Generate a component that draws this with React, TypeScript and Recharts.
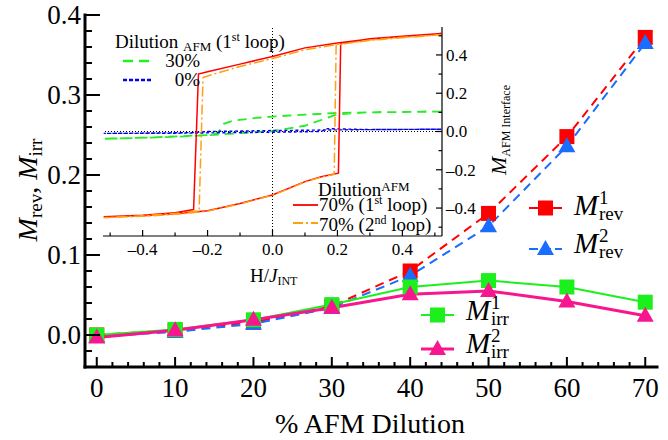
import React from 'react';
import { LineChart, Line, XAxis, YAxis, ReferenceLine } from 'recharts';

const FONT = '"Liberation Serif", "Times New Roman", Times, serif';

// ---------- main chart data ----------
const dilutionPct = [0, 10, 20, 30, 40, 50, 60, 70];
const mRev1 = [0.0, 0.006, 0.016, 0.036, 0.08, 0.152, 0.248, 0.372];
const mRev2 = [-0.002, 0.004, 0.014, 0.034, 0.074, 0.136, 0.236, 0.365];
const mIrr1 = [0.0, 0.007, 0.019, 0.038, 0.06, 0.068, 0.06, 0.041];
const mIrr2 = [-0.003, 0.006, 0.019, 0.034, 0.051, 0.055, 0.042, 0.024];

const mainXMajor = [0, 10, 20, 30, 40, 50, 60, 70];
const mainXLabels = ['0', '10', '20', '30', '40', '50', '60', '70'];
const mainYMajor = [0, 0.1, 0.2, 0.3, 0.4];
const mainYLabels = ['0.0', '0.1', '0.2', '0.3', '0.4'];
const mainXTicks = Array.from({ length: 36 }, (_, i) => i * 2);
const mainYTicks = Array.from({ length: 23 }, (_, i) => Math.round((-0.04 + i * 0.02) * 100) / 100);

// ---------- inset data: [H/J_INT, M_AFM interface] in drawing order ----------
const loop0: number[][] = [
  [0.52, 0.012], [0.3, 0.01], [0.0, 0.005], [-0.2, 0.0], [-0.25, -0.006], [-0.52, -0.01],
  [-0.3, -0.009], [0.0, -0.004], [0.15, 0.0], [0.17, 0.015], [0.3, 0.01], [0.52, 0.012],
];
const loop30: number[][] = [
  [0.52, 0.104], [0.3, 0.1], [0.2, 0.097], [0.1, 0.088], [0.0, 0.078], [-0.05, 0.071], [-0.12, 0.057],
  [-0.15, 0.04], [-0.165, 0.0], [-0.18, -0.017], [-0.25, -0.022], [-0.33, -0.028], [-0.43, -0.035], [-0.52, -0.038],
  [-0.3, -0.028], [-0.18, -0.018], [-0.1, -0.008], [0.0, 0.002], [0.1, 0.03], [0.15, 0.06], [0.2, 0.09],
  [0.3, 0.1], [0.52, 0.104],
];
const loop70First: number[][] = [
  [0.52, 0.512], [0.4, 0.497], [0.3, 0.483], [0.2, 0.463], [0.1, 0.437], [0.0, 0.392], [-0.1, 0.352],
  [-0.2, 0.312], [-0.228, 0.3], [-0.243, -0.408], [-0.3, -0.425], [-0.4, -0.437], [-0.52, -0.446],
  [-0.4, -0.44], [-0.3, -0.43], [-0.2, -0.414], [-0.1, -0.376], [0.0, -0.332], [0.1, -0.262], [0.15, -0.236],
  [0.203, -0.218], [0.21, 0.46], [0.3, 0.484], [0.4, 0.498], [0.52, 0.512],
];
const loop70Second: number[][] = [
  [0.52, 0.505], [0.4, 0.49], [0.3, 0.476], [0.2, 0.455], [0.1, 0.427], [0.0, 0.381], [-0.1, 0.34],
  [-0.2, 0.29], [-0.214, 0.282], [-0.226, -0.414], [-0.3, -0.428], [-0.4, -0.44], [-0.52, -0.45],
  [-0.4, -0.443], [-0.3, -0.433], [-0.2, -0.416], [-0.1, -0.378], [0.0, -0.333], [0.1, -0.264], [0.15, -0.238],
  [0.19, -0.224], [0.196, 0.452], [0.3, 0.478], [0.4, 0.492], [0.52, 0.505],
];
const insetMajor = [-0.4, -0.2, 0, 0.2, 0.4];
const insetLabels = ['\u20130.4', '\u20130.2', '0.0', '0.2', '0.4'];
const insetTicks = Array.from({ length: 11 }, (_, i) => Math.round((-0.5 + i * 0.1) * 10) / 10);

const mainData = dilutionPct.map((d, i) => ({ d, rev1: mRev1[i], rev2: mRev2[i], irr1: mIrr1[i], irr2: mIrr2[i] }));
const toPts = (arr: number[][]) => arr.map(([h, m]) => ({ h, m }));

const RED = '#ff0000';
const BLUE = '#1a6dff';
const GREEN = '#1cf01c';
const PINK = '#f8168e';
const ORANGE = '#ffa010';

type TickCfg = {
  side: 'bottom' | 'top' | 'left' | 'right';
  majors: number[];
  labels?: string[];
  majorLen: number;
  minorLen: number;
  sw: number;
  fontSize?: number;
  offset?: number;
};

const makeTick = (c: TickCfg) => (props: any) => {
  const { x, y, payload } = props;
  const v = payload.value;
  const i = c.majors.findIndex((m) => Math.abs(m - v) < 1e-6);
  const len = i >= 0 ? c.majorLen : c.minorLen;
  let x2 = x;
  let y2 = y;
  if (c.side === 'bottom') y2 = y - len;
  else if (c.side === 'top') y2 = y + len;
  else if (c.side === 'left') x2 = x + len;
  else x2 = x - len;
  let label: any = null;
  if (i >= 0 && c.labels) {
    const t = c.labels[i];
    const common = { fontSize: c.fontSize, fontFamily: FONT, fill: '#000' };
    if (c.side === 'bottom')
      label = <text x={x} y={y + (c.offset || 0)} textAnchor="middle" {...common}>{t}</text>;
    else if (c.side === 'left')
      label = <text x={x - (c.offset || 0)} y={y} dy="0.35em" textAnchor="end" {...common}>{t}</text>;
    else if (c.side === 'right')
      label = <text x={x + (c.offset || 0)} y={y} dy="0.35em" textAnchor="start" {...common}>{t}</text>;
  }
  return (
    <g>
      <line x1={x} y1={y} x2={x2} y2={y2} stroke="#000" strokeWidth={c.sw} />
      {label}
    </g>
  );
};

const Square = (props: any) => {
  const { cx, cy, color } = props;
  if (cx == null || cy == null) return <g />;
  return <rect x={cx - 7.5} y={cy - 7.5} width={15} height={15} fill={color} />;
};
const Tri = (props: any) => {
  const { cx, cy, color } = props;
  if (cx == null || cy == null) return <g />;
  const w = 17;
  const h = 15;
  return (
    <polygon
      points={`${cx},${cy - h * 0.6} ${cx - w / 2},${cy + h * 0.4} ${cx + w / 2},${cy + h * 0.4}`}
      fill={color}
    />
  );
};

const mainAxis = { stroke: '#000', strokeWidth: 3, strokeLinecap: 'square' as const };
const insetAxis = { stroke: '#000', strokeWidth: 1.2 };

const LegendEntry = (p: {
  x1: number; x2: number; cy: number; color: string; tri?: boolean; dash?: string; sw: number;
  tx: number; base: number; sup: string; sub: string;
}) => {
  const mid = (p.x1 + p.x2) / 2;
  return (
    <g>
      <line x1={p.x1} x2={p.x2} y1={p.cy} y2={p.cy} stroke={p.color} strokeWidth={p.sw} strokeDasharray={p.dash} />
      {p.tri ? <Tri cx={mid} cy={p.cy} color={p.color} /> : <Square cx={mid} cy={p.cy} color={p.color} />}
      <text x={p.tx} y={p.base} fontSize={29} fontStyle="italic" fontFamily={FONT} fill="#000">M</text>
      <text x={p.tx + 25} y={p.base - 11} fontSize={19} fontFamily={FONT} fill="#000">{p.sup}</text>
      <text x={p.tx + 25} y={p.base + 5} fontSize={19} fontFamily={FONT} fill="#000">{p.sub}</text>
    </g>
  );
};

export default function App() {
  return (
    <div style={{ position: 'absolute', left: 0, top: 0, width: 668, height: 440, background: '#fff', fontFamily: FONT }}>
      <div style={{ position: 'absolute', left: 0, top: 0 }}>
        <LineChart width={668} height={440} data={mainData} margin={{ top: 15, right: 11, bottom: 13, left: 10 }}>
          <XAxis
            xAxisId="top" orientation="top" type="number" domain={[-1.5, 71.5]} allowDataOverflow
            ticks={mainXTicks} interval={0} height={0} tickSize={0} tickMargin={0} tickLine={false}
            axisLine={mainAxis}
            tick={makeTick({ side: 'top', majors: mainXMajor, majorLen: 11, minorLen: 6, sw: 2 })}
          />
          <YAxis
            yAxisId="right" orientation="right" type="number" domain={[-0.04, 0.4]} allowDataOverflow
            ticks={mainYTicks} interval={0} width={0} tickSize={0} tickMargin={0} tickLine={false}
            axisLine={mainAxis}
            tick={makeTick({ side: 'right', majors: mainYMajor, majorLen: 11, minorLen: 6, sw: 2 })}
          />
          <XAxis
            dataKey="d" type="number" domain={[-1.5, 71.5]} allowDataOverflow
            ticks={mainXTicks} interval={0} height={60} tickSize={0} tickMargin={0} tickLine={false}
            axisLine={mainAxis}
            tick={makeTick({ side: 'bottom', majors: mainXMajor, labels: mainXLabels, majorLen: 10, minorLen: 5, sw: 2, fontSize: 27, offset: 30 })}
          />
          <YAxis
            type="number" domain={[-0.04, 0.4]} allowDataOverflow
            ticks={mainYTicks} interval={0} width={75} tickSize={0} tickMargin={0} tickLine={false}
            axisLine={mainAxis}
            tick={makeTick({ side: 'left', majors: mainYMajor, labels: mainYLabels, majorLen: 15, minorLen: 7, sw: 2, fontSize: 27, offset: 4 })}
          />
          <Line dataKey="rev1" type="linear" stroke={RED} strokeWidth={2} strokeDasharray="9 6" isAnimationActive={false}
            dot={(p: any) => <Square key={`r1-${p.index}`} cx={p.cx} cy={p.cy} color={RED} />} activeDot={false} />
          <Line dataKey="rev2" type="linear" stroke={BLUE} strokeWidth={2} strokeDasharray="9 6" isAnimationActive={false}
            dot={(p: any) => <Tri key={`r2-${p.index}`} cx={p.cx} cy={p.cy} color={BLUE} />} activeDot={false} />
          <Line dataKey="irr1" type="linear" stroke={GREEN} strokeWidth={2} isAnimationActive={false}
            dot={(p: any) => <Square key={`i1-${p.index}`} cx={p.cx} cy={p.cy} color={GREEN} />} activeDot={false} />
          <Line dataKey="irr2" type="linear" stroke={PINK} strokeWidth={3} isAnimationActive={false}
            dot={(p: any) => <Tri key={`i2-${p.index}`} cx={p.cx} cy={p.cy} color={PINK} />} activeDot={false} />
        </LineChart>
      </div>

      <div style={{ position: 'absolute', left: 100, top: 20 }}>
        <LineChart width={420} height={290} margin={{ top: 7, right: 38, bottom: 34, left: 3 }}>
          <XAxis
            xAxisId="top" orientation="top" type="number" domain={[-0.522, 0.522]} allowDataOverflow
            ticks={insetTicks} interval={0} height={0} tickSize={0} tickMargin={0} tickLine={false}
            axisLine={insetAxis}
            tick={makeTick({ side: 'top', majors: insetMajor, majorLen: 6, minorLen: 3.5, sw: 1.2 })}
          />
          <YAxis
            yAxisId="left" orientation="left" type="number" domain={[-0.546, 0.546]} allowDataOverflow
            ticks={insetTicks} interval={0} width={0} tickSize={0} tickMargin={0} tickLine={false}
            axisLine={insetAxis}
            tick={makeTick({ side: 'left', majors: insetMajor, majorLen: 6, minorLen: 3.5, sw: 1.2 })}
          />
          <XAxis
            dataKey="h" type="number" domain={[-0.522, 0.522]} allowDataOverflow
            ticks={insetTicks} interval={0} height={40} tickSize={0} tickMargin={0} tickLine={false}
            axisLine={insetAxis}
            tick={makeTick({ side: 'bottom', majors: insetMajor, labels: insetLabels, majorLen: 6, minorLen: 3.5, sw: 1.2, fontSize: 17, offset: 19 })}
          />
          <YAxis
            orientation="right" type="number" domain={[-0.546, 0.546]} allowDataOverflow
            ticks={insetTicks} interval={0} width={40} tickSize={0} tickMargin={0} tickLine={false}
            axisLine={insetAxis}
            tick={makeTick({ side: 'right', majors: insetMajor, labels: insetLabels, majorLen: 6, minorLen: 3.5, sw: 1.2, fontSize: 17, offset: 4 })}
          />
          <ReferenceLine x={0} stroke="#000" strokeWidth={1} strokeDasharray="1 2" />
          <ReferenceLine y={0} stroke="#000" strokeWidth={1} strokeDasharray="1 2" />
          <Line data={toPts(loop30)} dataKey="m" type="linear" stroke="#22ee22" strokeWidth={1.8} strokeDasharray="9 6" dot={false} activeDot={false} isAnimationActive={false} />
          <Line data={toPts(loop0)} dataKey="m" type="linear" stroke="#0000ee" strokeWidth={1.4} strokeDasharray="3 2.5" dot={false} activeDot={false} isAnimationActive={false} />
          <Line data={toPts(loop70First)} dataKey="m" type="linear" stroke={RED} strokeWidth={1.5} dot={false} activeDot={false} isAnimationActive={false} />
          <Line data={toPts(loop70Second)} dataKey="m" type="linear" stroke={ORANGE} strokeWidth={1.5} strokeDasharray="10 3 2 3" dot={false} activeDot={false} isAnimationActive={false} />
        </LineChart>
      </div>

      <svg width={668} height={440} style={{ position: 'absolute', left: 0, top: 0, pointerEvents: 'none' }}>
        {/* main axis titles */}
        <text transform="translate(37,190) rotate(-90)" textAnchor="middle" fontSize={28} fontFamily={FONT} fill="#000">
          <tspan fontStyle="italic">M</tspan>
          <tspan fontSize={19} dy={5}>rev</tspan>
          <tspan dy={-5}>, </tspan>
          <tspan fontStyle="italic">M</tspan>
          <tspan fontSize={19} dy={5}>irr</tspan>
        </text>
        <text x={370} y={433} textAnchor="middle" fontSize={28} fontFamily={FONT} fill="#000">% AFM Dilution</text>

        {/* main legend */}
        <LegendEntry x1={529} x2={562} cy={208} color={RED} sw={2} tx={574} base={215} sup="1" sub="rev" />
        <LegendEntry x1={529} x2={562} cy={249} color={BLUE} tri sw={2} dash="9 4" tx={574} base={253} sup="2" sub="rev" />
        <LegendEntry x1={421} x2={454} cy={315} color={GREEN} sw={2} tx={466} base={320} sup="1" sub="irr" />
        <LegendEntry x1={421} x2={454} cy={349} color={PINK} tri sw={3} tx={466} base={353} sup="2" sub="irr" />

        {/* inset legend (top-left) */}
        <text x={115} y={48} fontSize={19} fontFamily={FONT} fill="#000">
          <tspan>Dilution </tspan>
          <tspan fontSize={13} dy={3}>AFM</tspan>
          <tspan dy={-3}> (1</tspan>
          <tspan fontSize={12} dy={-7}>st</tspan>
          <tspan dy={7}> loop)</tspan>
        </text>
        <line x1={123} x2={153} y1={61} y2={61} stroke="#22ee22" strokeWidth={2.5} strokeDasharray="10 6" />
        <text x={200} y={67} textAnchor="end" fontSize={19} fontFamily={FONT} fill="#000">30%</text>
        <line x1={123} x2={153} y1={80} y2={80} stroke="#0000ee" strokeWidth={2.5} strokeDasharray="4 2" />
        <text x={200} y={86} textAnchor="end" fontSize={19} fontFamily={FONT} fill="#000">0%</text>

        {/* inset legend (bottom-right) */}
        <text x={318} y={196} fontSize={19} fontFamily={FONT} fill="#000">
          <tspan>Dilution</tspan>
          <tspan fontSize={13} dy={-5}>AFM</tspan>
        </text>
        <line x1={293} x2={318} y1={205} y2={205} stroke={RED} strokeWidth={1.8} />
        <text x={319} y={211} fontSize={19} fontFamily={FONT} fill="#000">
          <tspan>70% (1</tspan>
          <tspan fontSize={12} dy={-7}>st</tspan>
          <tspan dy={7}> loop)</tspan>
        </text>
        <line x1={293} x2={318} y1={223} y2={223} stroke={ORANGE} strokeWidth={1.8} strokeDasharray="10 3 2 3" />
        <text x={319} y={231} fontSize={19} fontFamily={FONT} fill="#000">
          <tspan>70% (2</tspan>
          <tspan fontSize={12} dy={-7}>nd</tspan>
          <tspan dy={7}> loop)</tspan>
        </text>

        {/* inset axis titles */}
        <text x={250} y={282} fontSize={19} fontFamily={FONT} fill="#000">
          <tspan>H/</tspan>
          <tspan fontStyle="italic">J</tspan>
          <tspan fontSize={12} dy={3}>INT</tspan>
        </text>
        <text transform="translate(506,130) rotate(-90)" textAnchor="middle" fontSize={22} fontFamily={FONT} fill="#000">
          <tspan fontStyle="italic">M</tspan>
          <tspan fontSize={12} dy={4}>AFM Interface</tspan>
        </text>
      </svg>
    </div>
  );
}
